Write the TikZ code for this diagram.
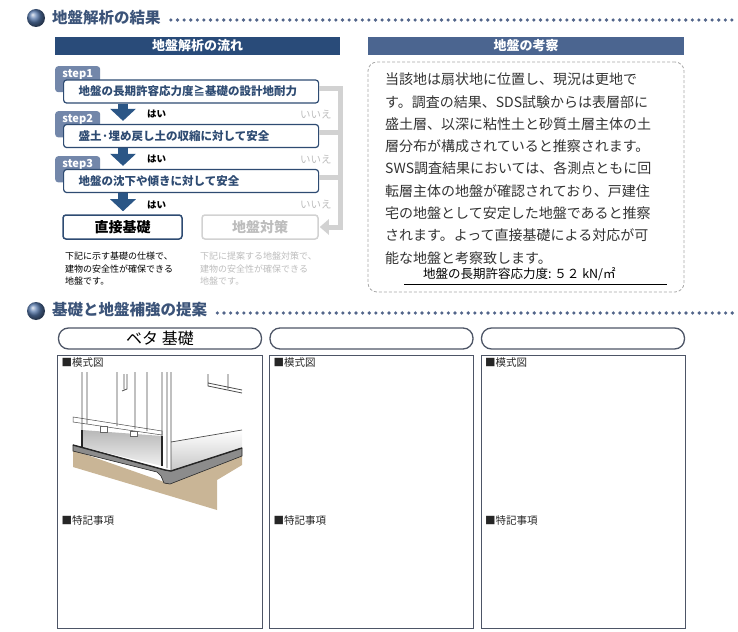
\documentclass[tikz,border=0pt]{standalone}
\usepackage{fontspec}
\setmainfont{Noto Sans CJK JP}
\usetikzlibrary{arrows.meta}
\definecolor{titleblue}{HTML}{3C5479}
\definecolor{flowbar}{HTML}{294B79}
\definecolor{notebar}{HTML}{4B6590}
\definecolor{tabblue}{HTML}{7387AA}
\definecolor{boxblue}{HTML}{2E4B72}
\definecolor{arrowblue}{HTML}{2B5686}
\definecolor{offgray}{HTML}{D2D2D2}
\definecolor{offtext}{HTML}{BDBDBD}
\definecolor{cardline}{HTML}{4D5566}
\definecolor{dotblue}{HTML}{52658A}
\definecolor{bodygray}{HTML}{333333}
\definecolor{dashgray}{HTML}{A8A8A8}
\definecolor{bulletblue}{HTML}{5577AA}
\definecolor{ground}{HTML}{C9B596}
\definecolor{slab}{HTML}{8C8C8C}

\begin{document}
\begin{tikzpicture}[x=1bp,y=-1bp]
\tikzstyle{every node}=[inner sep=0pt];
\tikzstyle{bullet}=[circle, minimum size=18bp, ball color=bulletblue];
\tikzstyle{head}=[anchor=west, text=titleblue, font=\bfseries\fontsize{15.5bp}{18bp}\selectfont];
\tikzstyle{dotrule}=[draw=dotblue, line width=3.6bp, line cap=round, dash pattern=on 0bp off 6.6bp];
\tikzstyle{bar}=[minimum height=18bp, text=white, font=\bfseries\fontsize{13bp}{15bp}\selectfont];
\tikzstyle{steptab}=[anchor=north west, fill=tabblue, rounded corners=3bp, minimum width=45bp, inner sep=3bp, text depth=12bp, text=white, font=\bfseries\fontsize{11bp}{13bp}\selectfont];
\tikzstyle{stepbox}=[anchor=west, draw=boxblue, line width=1.2bp, fill=white, rounded corners=3bp, minimum height=23bp, text width=225bp, inner xsep=15bp, align=left, text=boxblue, font=\bfseries\fontsize{11.5bp}{13bp}\selectfont];
\tikzstyle{endbox}=[draw=boxblue, line width=1.5bp, fill=white, rounded corners=3bp, minimum width=119bp, minimum height=24bp, font=\bfseries\fontsize{14bp}{16bp}\selectfont];
\tikzstyle{downarrow}=[draw=arrowblue, line width=10bp, -{Triangle[width=25bp,length=12bp]}, shorten >=3bp];
\tikzstyle{offline}=[draw=offgray, line width=5bp];
\tikzstyle{yeslabel}=[anchor=west, font=\bfseries\fontsize{9.5bp}{11bp}\selectfont];
\tikzstyle{nolabel}=[anchor=west, text=offtext, font=\fontsize{10.5bp}{12bp}\selectfont];
\tikzstyle{note}=[anchor=north west, align=left, font=\fontsize{9bp}{12.5bp}\selectfont];
\tikzstyle{notebox}=[draw=dashgray, line width=0.8bp, dash pattern=on 3bp off 2bp, rounded corners=9bp, minimum width=316bp, minimum height=230bp];
\tikzstyle{body}=[anchor=base west, text=bodygray, font=\fontsize{14bp}{16bp}\selectfont];
\tikzstyle{pill}=[draw=cardline, line width=1.3bp, rounded corners=10bp, minimum width=203bp, minimum height=21bp, font=\fontsize{16bp}{18bp}\selectfont];
\tikzstyle{card}=[draw=cardline, line width=1bp, minimum width=204bp, minimum height=273bp];
\tikzstyle{cardlabel}=[anchor=west, text=black!85, font=\fontsize{10.5bp}{12bp}\selectfont];
\useasboundingbox (0,0) rectangle (738,632);

\node (S1) [bullet] at (36,18) {};
\node (H1) [head] at (52,18) {地盤解析の結果};
\coordinate (E1) at (735,20);
\draw [dotrule] ([xshift=10bp]H1.east |- E1) -- (E1);

\node (FB) [bar, fill=flowbar, minimum width=285bp] at (197.5,46) {地盤解析の流れ};
\node (NB) [bar, fill=notebar, minimum width=316bp] at (526,46) {地盤の考察};

\coordinate (GR) at (340,0);
\coordinate (AX) at (123,0);
\node (T1) [steptab] at (55,66) {step1};
\node (T2) [steptab] at (55,111) {step2};
\node (T3) [steptab] at (55,156) {step3};
\node (B1) [stepbox] at (63,91.5) {地盤の長期許容応力度≧基礎の設計地耐力};
\node (B2) [stepbox] at (63,136) {盛土·埋め戻し土の収縮に対して安全};
\node (B3) [stepbox] at (63,181) {地盤の沈下や傾きに対して安全};
\node (DK) [endbox] at (122.5,227) {直接基礎};
\node (GT) [endbox, draw=offgray, text=offtext, minimum width=116bp] at (260,227) {地盤対策};
\draw [downarrow] (B1.south -| AX) -- (B2.north -| AX);
\draw [downarrow] (B2.south -| AX) -- (B3.north -| AX);
\draw [downarrow] (B3.south -| AX) -- (DK.north -| AX);
\draw [offline, -{Triangle[width=15bp,length=9bp]}, shorten >=1bp] ([yshift=3bp]B1.east) -- ([yshift=3bp]B1.east -| GR) |- (GT.east);
\draw [offline] ([yshift=3bp]B2.east) -- ([yshift=3bp]B2.east -| GR);
\draw [offline] ([yshift=3bp]B3.east) -- ([yshift=3bp]B3.east -| GR);
\node (Y1) [yeslabel] at (147,114) {はい};
\node (N1) [nolabel] at (300,115) {いいえ};
\node (Y2) [yeslabel] at (147,159) {はい};
\node (N2) [nolabel] at (300,160) {いいえ};
\node (Y3) [yeslabel] at (147,205) {はい};
\node (N3) [nolabel] at (300,205) {いいえ};
\node (C1) [note] at (65,252) {下記に示す基礎の仕様で、\\建物の安全性が確保できる\\地盤です。};
\node (C2) [note, text=offtext] at (200,252) {下記に提案する地盤対策で、\\建物の安全性が確保できる\\地盤です。};

\node (NT) [notebox] at (526,177) {};
\node (L1) [body] at (385,85) {当該地は扇状地に位置し、現況は更地で};
\node (L2) [body] at (385,107.25) {す。調査の結果、SDS試験からは表層部に};
\node (L3) [body] at (385,129.5) {盛土層、以深に粘性土と砂質土層主体の土};
\node (L4) [body] at (385,151.75) {層分布が構成されていると推察されます。};
\node (L5) [body] at (385,174) {SWS調査結果においては、各測点ともに回};
\node (L6) [body] at (385,196.25) {転層主体の地盤が確認されており、戸建住};
\node (L7) [body] at (385,218.5) {宅の地盤として安定した地盤であると推察};
\node (L8) [body] at (385,240.75) {されます。よって直接基礎による対応が可};
\node (L9) [body] at (385,263) {能な地盤と考察致します。};
\node (KN) [body, text=black, font=\fontsize{12.5bp}{14bp}\selectfont] at (423,278) {地盤の長期許容応力度:\ ５２\ kN/㎡};
\draw [line width=0.9bp] (404,284) -- (667,284);

\node (S2) [bullet] at (36,311) {};
\node (H2) [head] at (52,310) {基礎と地盤補強の提案};
\coordinate (E2) at (735,313);
\draw [dotrule] ([xshift=10bp]H2.east |- E2) -- (E2);

\node (P1) [pill] at (160,338.5) {ベタ 基礎};
\node (P2) [pill] at (371.5,338.5) {};
\node (P3) [pill] at (583,338.5) {};
\node (K1) [card] at (160,491.5) {};
\node (K2) [card] at (371.5,491.5) {};
\node (K3) [card] at (583,491.5) {};
\node (M1) [cardlabel] at (61.5,363) {■模式図};
\node (M2) [cardlabel] at (273.5,363) {■模式図};
\node (M3) [cardlabel] at (485,363) {■模式図};
\node (R1) [cardlabel] at (61.5,521) {■特記事項};
\node (R2) [cardlabel] at (273.5,521) {■特記事項};
\node (R3) [cardlabel] at (485,521) {■特記事項};

\fill [ground] (73,450) -- (73,467) -- (217,510) -- (217,480) -- (242,465) -- (242,456) -- (170,484) -- cycle;
\shade [top color=white, bottom color=black!22] (171,442) -- (242,430) -- (242,448) -- (171,471) -- cycle;
\shade [top color=black!28, bottom color=black!6] (82,430) -- (162,436) -- (162,466) -- (82,447) -- cycle;
\filldraw [fill=slab, draw=black!85, line width=0.6bp] (73,445) -- (165,470) -- (171,471) -- (242,448) -- (242,456) -- (170,484) -- (164,483) -- (161,476) -- (157,472) -- (73,451) -- cycle;
\draw [black!85, line width=1.4bp] (73,445) -- (165,470) -- (171,471) -- (242,448);
\filldraw [fill=white, draw=black!70, line width=0.5bp] (73,417) -- (162,431) -- (162,435) -- (73,422) -- cycle;
\filldraw [fill=white, draw=black!60, line width=0.5bp] (100,426) rectangle (107,432) (130,431) rectangle (137,436);
\draw [black!70, line width=0.7bp] (82,372) -- (82,448) (87,372) -- (87,424) (117,372) -- (117,426) (135,372) -- (135,429) (147,372) -- (147,431) (162,372) -- (162,466) (167,372) -- (167,468) (171,372) -- (171,471) (171,442) -- (242,430);
\draw [black!85, line width=1.6bp] (82,430) -- (82,448) (162,436) -- (162,466);
\draw [black!70, line width=0.8bp] (124,374) -- (124,389) (127,374) -- (127,389) -- (122,391) (208,374) -- (208,386) -- (242,393) (228,374) -- (228,389) (208,383) -- (242,390);
\end{tikzpicture}
\end{document}
